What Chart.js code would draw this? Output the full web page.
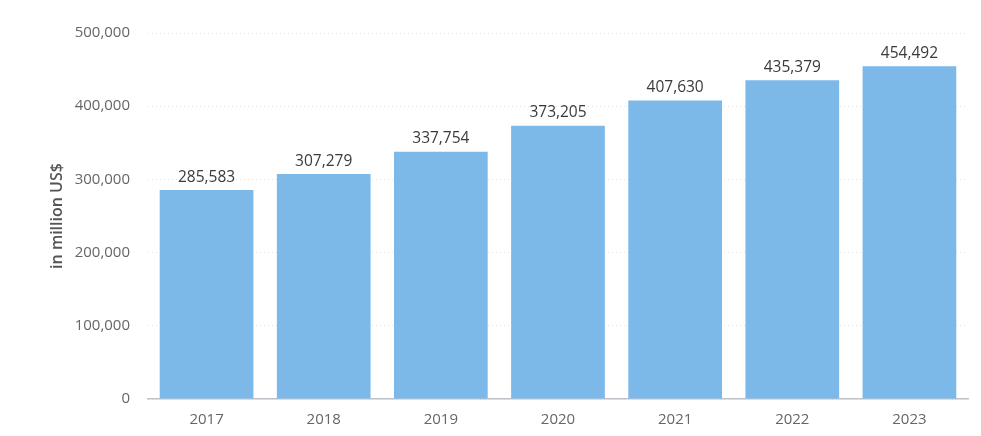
<!DOCTYPE html>
<html>
<head>
<meta charset="utf-8">
<script src="https://cdn.jsdelivr.net/npm/chart.js@4"></script>
<style>
html,body{margin:0;padding:0;background:#fff;}
#wrap{width:981px;height:436px;position:relative;}
</style>
</head>
<body>
<div id="wrap"><canvas id="c" width="981" height="436"></canvas></div>
<script>
const categories = ['2017','2018','2019','2020','2021','2022','2023'];
const values = [285583, 307279, 337754, 373205, 407630, 435379, 454492];
const yTicks = [0, 100000, 200000, 300000, 400000, 500000];

const fmt = v => v.toLocaleString('en-US');

const labelPlugin = {
  id: 'barLabels',
  afterDatasetsDraw(chart) {
    const ctx = chart.ctx;
    const meta = chart.getDatasetMeta(0);
    ctx.save();
    ctx.font = '15.5px "Open Sans", sans-serif';
    ctx.fillStyle = '#3a3a3a';
    ctx.textAlign = 'center';
    ctx.textBaseline = 'bottom';
    meta.data.forEach((bar, i) => {
      ctx.fillText(fmt(values[i]), bar.x, bar.y - 5);
    });
    ctx.restore();
  }
};

new Chart(document.getElementById('c'), {
  type: 'bar',
  data: {
    labels: categories,
    datasets: [{
      data: values,
      backgroundColor: '#7db9e8',
      borderWidth: 0,
      categoryPercentage: 1,
      barPercentage: 0.8
    }]
  },
  options: {
    responsive: false,
    animation: false,
    devicePixelRatio: 1,
    layout: { padding: { left: 0, right: 13, top: 33, bottom: 0 } },
    plugins: { legend: { display: false }, tooltip: { enabled: false } },
    scales: {
      x: {
        grid: { display: false },
        border: { display: true, color: '#bfc3c9', width: 1.5 },
        ticks: { color: '#666666', font: { family: '"Open Sans", sans-serif', size: 15 }, padding: 4 },
        afterFit(s) { s.height = 37; }
      },
      y: {
        min: 0, max: 500000,
        afterBuildTicks(s) { s.ticks = yTicks.map(v => ({ value: v })); },
        grid: { color: '#e3e3e3', drawTicks: false, lineWidth: 1 },
        border: { display: false, dash: [1, 3] },
        ticks: {
          color: '#666666',
          font: { family: '"Open Sans", sans-serif', size: 15 },
          padding: 18,
          callback: v => fmt(v)
        },
        title: {
          display: true,
          text: 'in million US$',
          color: '#555555',
          font: { family: '"Open Sans", sans-serif', size: 16, weight: '600' },
          padding: { top: 48, bottom: 0 }
        },
        afterFit(s) { s.width = 148; }
      }
    }
  },
  plugins: [labelPlugin]
});
</script>
</body>
</html>
